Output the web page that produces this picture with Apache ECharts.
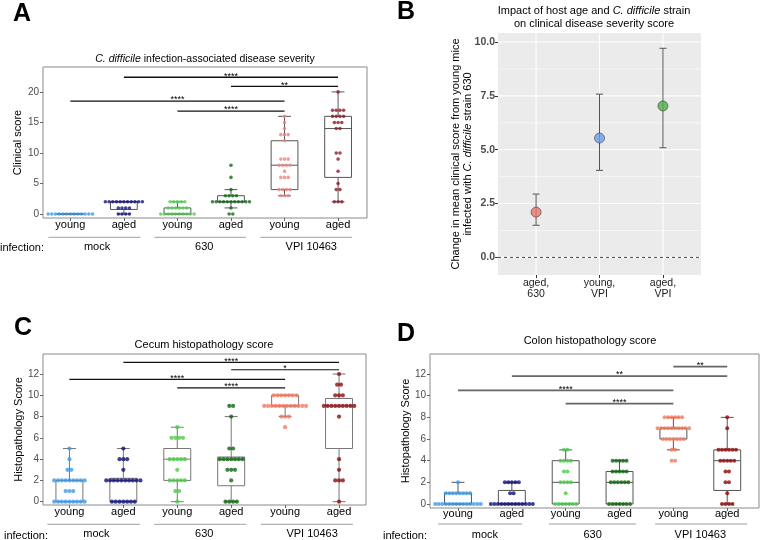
<!DOCTYPE html>
<html><head><meta charset="utf-8">
<script src="https://cdn.jsdelivr.net/npm/echarts@6/dist/echarts.min.js"></script>
<style>html,body{margin:0;padding:0;background:#fff}#c{width:760px;height:540px}</style>
</head><body><div id="c"></div>
<script>
// ---------- shared labels ----------
const groupCats = ['young', 'aged', 'young', 'aged', 'young', 'aged'];
const infectionLabels = ['mock', '630', 'VPI 10463'];
const catIdx = [0, 1, 2, 3, 4, 5];
const groupLabelPos = [0.5, 2.5, 4.5];

// ---------- Panel A: clinical score (one value per mouse) ----------
const clinMockYoung = [0,0,0,0,0,0,0,0,0,0,0,0,0];
const clinMockAged = [2,2,2,2,2,2,2,2,2,2,2,1,1,1,1,0,0,0,0];
const clin630Young = [2,2,2,2,2,1,1,1,1,1,1,0,0,0,0,0,0,0,0,0,0];
const clin630Aged = [8,6,4,3,3,3,3,2,2,2,2,2,2,2,2,2,2,2,1,0,0];
const clinVpiYoung = [16,15,14,13,13,13,12,9,9,9,8,8,8,8,7,6,6,6,4,4,4,4,3,3,3];
const clinVpiAged = [20,17,17,17,17,16,16,16,16,15,15,15,14,14,10,10,9,7,5,4,4,2,2,2];
// box stats [min, q1, median, q3, max]
const clinBoxes = [[0,0,0,0,0],[0,0.75,2,2,2],[0,0,0,1,2],[1,2,2,3,4],[3,4,8,12,16],[2,6,14,16,20]];
const clinTicks = [0,5,10,15,20];
const clinSig = [[1,5,22.4],[3,5,20.9],[0,4,18.5],[2,4,16.85]];
const clinSigStars = ['****','**','****','****'];

// ---------- Panel B: change in mean clinical score ----------
const bLabels = ['aged,\n630', 'young,\nVPI', 'aged,\nVPI'];
const bMean = [2.1, 5.54, 7.03];
const bLow = [1.49, 4.04, 5.09];
const bHigh = [2.94, 7.58, 9.71];
const bTicks = [0, 2.5, 5, 7.5, 10];
const bMinor = [1.25, 3.75, 6.25, 8.75];
const bColors = ['#E8766C', '#6A9DF0', '#4FAF48'];

// ---------- Panel C: cecum histopathology ----------
const cecMockYoung = [5,4,3,3,2,2,2,2,2,2,2,2,2,1,1,1,0,0,0,0,0,0,0,0,0];
const cecMockAged = [5,4,4,4,3,2,2,2,2,2,2,2,2,2,2,0,0,0,0,0,0,0];
const cec630Young = [7,6,6,6,6,4,4,4,4,4,3,2,2,2,2,2,1,1,0];
const cec630Aged = [9,9,8,5,5,4,4,4,4,4,4,4,3,3,3,2,0,0,0,0];
const cecVpiYoung = [10,10,10,10,10,10,10,9,9,9,9,9,9,9,9,9,9,9,9,8,8,8,7];
const cecVpiAged = [12,11,11,10,10,10,9,9,9,9,9,9,9,9,9,8,4,3,2,2,2,0];
const cecBoxes = [[0,0,2,2,5],[0,0,2,2.2,5],[0,2,4,5,7],[0,1.5,4,4.2,8],[8,9,9,10,10],[0,5,9,9.7,12]];
const histTicks = [0,2,4,6,8,10,12];
const cecSig = [[1,5,13.1],[3,5,12.4],[0,4,11.5],[2,4,10.7]];
const cecSigStars = ['****','*','****','****'];

// ---------- Panel D: colon histopathology ----------
const colMockYoung = [2,1,1,1,1,1,1,1,1,0,0,0,0,0,0,0,0,0,0,0,0,0,0];
const colMockAged = [2,2,2,2,2,1,1,0,0,0,0,0,0,0,0,0,0,0,0,0];
const col630Young = [5,5,4,4,4,4,3,3,2,2,2,2,1,0,0,0,0,0,0,0];
const col630Aged = [4,4,4,4,4,3,3,3,3,3,2,2,2,2,2,2,0,0,0,0,0,0,0];
const colVpiYoung = [8,8,8,8,8,8,7,7,7,7,7,7,7,7,7,7,6,6,6,6,6,6,6,5,5,4,4];
const colVpiAged = [8,7,5,5,5,5,5,5,4,4,4,4,4,3,3,2,2,1,0,0,0,0];
const colBoxes = [[0,0,0,1,2],[0,0,0,1.25,2],[0,0,2,4,5],[0,0,2,3,4],[5,6,7,7,8],[0,1.25,4,5,8]];
const colSig = [[4,5,12.68],[1,5,11.8],[0,4,10.5],[2,4,9.26]];
const colSigStars = ['**','**','****','****'];

const colorsA = ['#3C9BEA','#14147A','#55CC55','#14691A','#F08282','#8C1C2C'];
const colorsCD = ['#3C9BEA','#0E0E78','#4CCB4C','#0E6410','#F6785E','#8B0A0A'];

const FONT = '"Liberation Sans", Arial, Helvetica, sans-serif';

function swarm(values, idx, spacing) {
  const counts = new Map();
  values.forEach(v => counts.set(v, (counts.get(v) || 0) + 1));
  const pts = [];
  counts.forEach((n, v) => {
    for (let j = 0; j < n; j++) pts.push([idx + (j - (n - 1) / 2) * spacing, v]);
  });
  return pts;
}

const panels = [
  { grid:{left:43, top:67, width:324, height:151}, x:[-0.51,5.54], y:[-0.65,24.08], yTicks:clinTicks,
    groups:[clinMockYoung, clinMockAged, clin630Young, clin630Aged, clinVpiYoung, clinVpiAged],
    boxes:clinBoxes, sig:clinSig, stars:clinSigStars, colors:colorsA, dot:3.6, spacingPx:3.7,
    boxColor:'#555', sigColor:'#111', sigWidth:1.3, yName:'Clinical score', nameGap:20, labelMargin:1.5,
    groupOffset:20, groupLines:[[-0.41,1.31],[1.57,3.28],[3.55,5.26]], groupLineDy:19.3, infX:44, infY:247.5 },
  { grid:{left:43, top:354, width:323, height:151}, x:[-0.49,5.5], y:[-0.31,13.88], yTicks:histTicks,
    groups:[cecMockYoung, cecMockAged, cec630Young, cec630Aged, cecVpiYoung, cecVpiAged],
    boxes:cecBoxes, sig:cecSig, stars:cecSigStars, colors:colorsCD, dot:4.2, spacingPx:3.8,
    boxColor:'#777', sigColor:'#111', sigWidth:1.2, yName:'Histopathology Score', nameGap:15, labelMargin:1.5,
    groupOffset:20.5, groupLines:[[-0.41,1.31],[1.57,3.28],[3.55,5.26]], groupLineDy:19.3, infX:48, infY:535.8 },
  { grid:{left:430, top:354, width:329, height:154}, x:[-0.52,5.59], y:[-0.37,13.85], yTicks:histTicks,
    groups:[colMockYoung, colMockAged, col630Young, col630Aged, colVpiYoung, colVpiAged],
    boxes:colBoxes, sig:colSig, stars:colSigStars, colors:colorsCD, dot:4.0, spacingPx:3.5,
    boxColor:'#555', sigColor:'#666', sigWidth:1.8, yName:'Histopathology Score', nameGap:18, labelMargin:0.5,
    groupOffset:18, groupLines:[[-0.37,1.19],[1.69,3.31],[3.66,5.37]], groupLineDy:16, infX:427, infY:535.8 }
];

const option = {
  animation: false,
  textStyle: { fontFamily: FONT },
  title: [], grid: [], xAxis: [], yAxis: [], series: [], graphic: []
};

panels.forEach(p => {
  const gi = option.grid.length;
  option.grid.push(Object.assign({}, p.grid, { show:true, borderColor:'#8a8a8a', borderWidth:1, backgroundColor:'transparent' }));
  const xi = option.xAxis.length;
  option.xAxis.push({ gridIndex:gi, type:'value', min:p.x[0], max:p.x[1], position:'bottom',
    axisLine:{show:false, onZero:false}, splitLine:{show:false},
    axisTick:{show:true, customValues:catIdx, length:3, lineStyle:{color:'#666'}},
    axisLabel:{customValues:catIdx, formatter:v => groupCats[Math.round(v)], fontSize:11, color:'#000', margin:p.labelMargin, fontFamily:FONT} });
  option.xAxis.push({ gridIndex:gi, type:'value', min:p.x[0], max:p.x[1], position:'bottom', offset:p.groupOffset,
    axisLine:{show:false, onZero:false}, splitLine:{show:false}, axisTick:{show:false},
    axisLabel:{customValues:groupLabelPos, formatter:v => infectionLabels[Math.round((v - 0.5) / 2)], fontSize:11, color:'#000', margin:3, fontFamily:FONT} });
  const yi = option.yAxis.length;
  option.yAxis.push({ gridIndex:gi, type:'value', min:p.y[0], max:p.y[1],
    axisLine:{show:false, onZero:false}, splitLine:{show:false},
    axisTick:{show:true, customValues:p.yTicks, length:3, lineStyle:{color:'#666'}},
    axisLabel:{customValues:p.yTicks, fontSize:10, color:'#4d4d4d', margin:4, fontFamily:FONT},
    name:p.yName, nameLocation:'middle', nameGap:p.nameGap, nameRotate:90,
    nameTextStyle:{fontSize:11, color:'#000', fontFamily:FONT} });

  const bandPx = p.grid.width / (p.x[1] - p.x[0]);
  const spacing = p.spacingPx / bandPx;
  const boxW = 0.5 * bandPx, capW = 0.24 * bandPx;

  // group underline segments
  option.series.push({ type:'custom', xAxisIndex:xi, yAxisIndex:yi, z:2, silent:true, clip:false,
    data: p.groupLines.map(s => [s[0], s[1]]),
    renderItem: (params, api) => {
      const x1 = api.coord([api.value(0), 0])[0];
      const x2 = api.coord([api.value(1), 0])[0];
      const cs = params.coordSys;
      const y = cs.y + cs.height + p.groupLineDy;
      return { type:'line', shape:{x1, y1:y, x2, y2:y}, style:{stroke:'#a0a0a0', lineWidth:1} };
    } });

  // boxes
  option.series.push({ type:'custom', xAxisIndex:xi, yAxisIndex:yi, z:3, silent:true,
    data: p.boxes.map((b, i) => [i].concat(b)),
    encode:{x:0, y:[1,2,3,4,5]},
    renderItem: (params, api) => {
      const i = api.value(0);
      const xc = api.coord([i, 0])[0];
      const ys = [1,2,3,4,5].map(k => api.coord([i, api.value(k)])[1]);
      const st = { stroke:p.boxColor, lineWidth:1, fill:null };
      return { type:'group', children:[
        { type:'line', shape:{x1:xc, y1:ys[0], x2:xc, y2:ys[1]}, style:st },
        { type:'line', shape:{x1:xc, y1:ys[3], x2:xc, y2:ys[4]}, style:st },
        { type:'line', shape:{x1:xc-capW/2, y1:ys[0], x2:xc+capW/2, y2:ys[0]}, style:st },
        { type:'line', shape:{x1:xc-capW/2, y1:ys[4], x2:xc+capW/2, y2:ys[4]}, style:st },
        { type:'rect', shape:{x:xc-boxW/2, y:ys[3], width:boxW, height:ys[1]-ys[3]}, style:{stroke:p.boxColor, lineWidth:1, fill:'rgba(0,0,0,0)'} },
        { type:'line', shape:{x1:xc-boxW/2, y1:ys[2], x2:xc+boxW/2, y2:ys[2]}, style:st }
      ]};
    } });

  // dots
  const pts = [];
  p.groups.forEach((vals, i) => {
    swarm(vals, i, spacing).forEach(pt => pts.push({ value:pt, itemStyle:{color:p.colors[i]} }));
  });
  option.series.push({ type:'scatter', xAxisIndex:xi, yAxisIndex:yi, z:5, silent:true,
    symbolSize:p.dot, data:pts });

  // significance brackets
  option.series.push({ type:'custom', xAxisIndex:xi, yAxisIndex:yi, z:6, silent:true,
    data: p.sig.map(s => s.slice()),
    encode:{x:[0,1], y:2},
    renderItem: (params, api) => {
      const a = api.coord([api.value(0), api.value(2)]);
      const b = api.coord([api.value(1), api.value(2)]);
      return { type:'group', children:[
        { type:'line', shape:{x1:a[0], y1:a[1], x2:b[0], y2:b[1]}, style:{stroke:p.sigColor, lineWidth:p.sigWidth} },
        { type:'text', x:(a[0]+b[0])/2, y:a[1] - 1.2, style:{ text:p.stars[params.dataIndex], fill:'#000',
          font:'9px ' + FONT, align:'center', verticalAlign:'middle', textAlign:'center', textVerticalAlign:'middle' } }
      ]};
    } });

  option.graphic.push({ type:'text', x:p.infX, y:p.infY, silent:true,
    style:{ text:'infection:', fill:'#000', font:'11px ' + FONT, align:'right', verticalAlign:'middle', textAlign:'right', textVerticalAlign:'middle' } });
});

// ---------- Panel B ----------
const bg = option.grid.length;
option.grid.push({ left:498, top:33, width:203, height:242, show:true, backgroundColor:'#EBEBEB', borderWidth:0 });
const bxi = option.xAxis.length;
option.xAxis.push({ gridIndex:bg, type:'value', min:0.4, max:3.6,
  axisLine:{show:false, onZero:false}, splitLine:{show:false},
  axisTick:{show:true, customValues:[1,2,3], length:3, lineStyle:{color:'#333'}},
  axisLabel:{customValues:[1,2,3], formatter:v => bLabels[Math.round(v) - 1], fontSize:10.5, lineHeight:11, color:'#1a1a1a', margin:3, fontFamily:FONT} });
const byi = option.yAxis.length;
option.yAxis.push({ gridIndex:bg, type:'value', min:-0.82, max:10.42,
  axisLine:{show:false, onZero:false}, splitLine:{show:false},
  axisTick:{show:true, customValues:bTicks, length:3, lineStyle:{color:'#333'}},
  axisLabel:{customValues:bTicks, formatter:v => v.toFixed(1), fontSize:10.5, fontWeight:'bold', color:'#4d4d4d', margin:3, fontFamily:FONT},
  name:'Change in mean clinical score from young mice\ninfected with {i|C. difficile} strain 630',
  nameLocation:'middle', nameGap:24, nameRotate:90, nameMoveOverlap:false,
  nameTextStyle:{fontSize:11, lineHeight:12, color:'#000', fontFamily:FONT, rich:{i:{fontStyle:'italic', fontSize:11, lineHeight:12, color:'#000', fontFamily:FONT}}} });

// gridlines (horizontal major/minor + vertical at categories)
const hLines = bTicks.map(v => [v, 1]).concat(bMinor.map(v => [v, 0]));
option.series.push({ type:'custom', xAxisIndex:bxi, yAxisIndex:byi, z:1, silent:true,
  data: hLines, encode:{y:0},
  renderItem: (params, api) => {
    const cs = params.coordSys;
    const y = api.coord([1, api.value(0)])[1];
    return { type:'line', shape:{x1:cs.x, y1:y, x2:cs.x + cs.width, y2:y},
      style:{stroke:'#ffffff', lineWidth: api.value(1) ? 1.1 : 0.55} };
  } });
option.series.push({ type:'custom', xAxisIndex:bxi, yAxisIndex:byi, z:1, silent:true,
  data: [[1],[2],[3]], encode:{x:0},
  renderItem: (params, api) => {
    const cs = params.coordSys;
    const x = api.coord([api.value(0), 0])[0];
    return { type:'line', shape:{x1:x, y1:cs.y, x2:x, y2:cs.y + cs.height}, style:{stroke:'#ffffff', lineWidth:1.1} };
  } });
// dashed zero reference
option.series.push({ type:'custom', xAxisIndex:bxi, yAxisIndex:byi, z:2, silent:true,
  data: [[0]], encode:{y:0},
  renderItem: (params, api) => {
    const cs = params.coordSys;
    const y = api.coord([1, api.value(0)])[1];
    return { type:'line', shape:{x1:cs.x, y1:y, x2:cs.x + cs.width, y2:y}, style:{stroke:'#222', lineWidth:0.8, lineDash:[3,3]} };
  } });
// error bars
option.series.push({ type:'custom', xAxisIndex:bxi, yAxisIndex:byi, z:3, silent:true,
  data: bMean.map((m, i) => [i + 1, bLow[i], bHigh[i]]), encode:{x:0, y:[1,2]},
  renderItem: (params, api) => {
    const lo = api.coord([api.value(0), api.value(1)]);
    const hi = api.coord([api.value(0), api.value(2)]);
    const st = { stroke:'#555', lineWidth:1 };
    return { type:'group', children:[
      { type:'line', shape:{x1:lo[0], y1:lo[1], x2:hi[0], y2:hi[1]}, style:st },
      { type:'line', shape:{x1:lo[0]-3.5, y1:lo[1], x2:lo[0]+3.5, y2:lo[1]}, style:st },
      { type:'line', shape:{x1:hi[0]-3.5, y1:hi[1], x2:hi[0]+3.5, y2:hi[1]}, style:st }
    ]};
  } });
option.series.push({ type:'scatter', xAxisIndex:bxi, yAxisIndex:byi, z:4, silent:true, symbolSize:10,
  data: bMean.map((m, i) => ({ value:[i + 1, m], itemStyle:{color:bColors[i], borderColor:'#444', borderWidth:0.8} })) });

// ---------- titles ----------
const italicRich = (size) => ({ i:{fontStyle:'italic', fontSize:size, color:'#000', fontFamily:FONT} });
option.title = [
  { text:'{i|C. difficile} infection-associated disease severity', left:205, top:54, textAlign:'center', padding:0,
    textStyle:{fontSize:10.5, fontWeight:'normal', color:'#000', fontFamily:FONT, rich:italicRich(10.5)} },
  { text:'Impact of host age and {i|C. difficile} strain\non clinical disease severity score', left:594, top:4, textAlign:'center', padding:0,
    textStyle:{fontSize:11, lineHeight:13, fontWeight:'normal', color:'#000', fontFamily:FONT, rich:{i:{fontStyle:'italic', fontSize:11, lineHeight:13, color:'#000', fontFamily:FONT}}} },
  { text:'Cecum histopathology score', left:204, top:339, textAlign:'center', padding:0,
    textStyle:{fontSize:11, fontWeight:'normal', color:'#000', fontFamily:FONT} },
  { text:'Colon histopathology score', left:590, top:335.5, textAlign:'center', padding:0,
    textStyle:{fontSize:11, fontWeight:'normal', color:'#000', fontFamily:FONT} }
];

// panel letters
[['A',13,2],['B',397,0],['C',14,316],['D',397,322]].forEach(l => {
  option.graphic.push({ type:'text', x:l[1], y:l[2], silent:true,
    style:{ text:l[0], fill:'#000', font:'bold 25px ' + FONT, align:'left', verticalAlign:'top', textAlign:'left', textVerticalAlign:'top' } });
});

const chart = echarts.init(document.getElementById('c'));
chart.setOption(option);
</script>
</body></html>
